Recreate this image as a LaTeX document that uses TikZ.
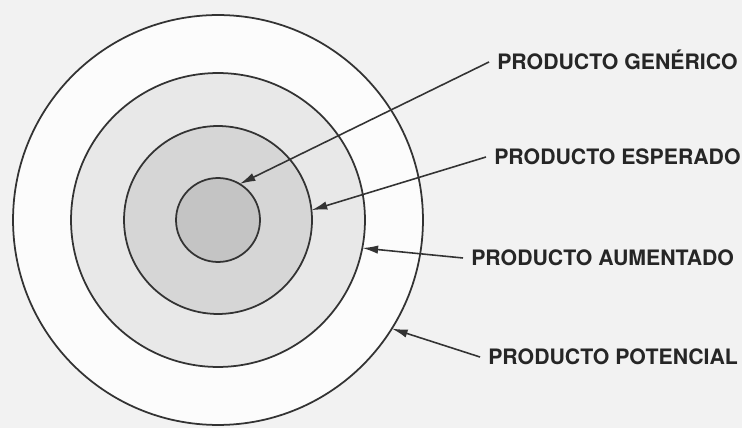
\documentclass[tikz,border=0pt]{standalone}
\usepackage{fontspec}
\setmainfont{TeX Gyre Heros}
\usetikzlibrary{arrows.meta}

\begin{document}
\begin{tikzpicture}[x=0.02cm, y=-0.02cm,
        anell/.style={circle, draw=black!80, line width=1pt, inner sep=0pt, outer sep=0pt},
        etiqueta/.style={anchor=west, inner sep=4.5pt, text height=8.7pt, text depth=0pt,
                         text=black!85, font=\fontsize{12.1}{14}\selectfont\bfseries},
        fletxa/.style={draw=black!80, line width=0.9pt, -{Latex[length=9pt, width=4.8pt]}}]
        \useasboundingbox[fill=black!5] (0,0) rectangle (742,428);
        % Cercles concentrics: del mes gran al mes petit
        \node[anell, fill=black!1,  minimum size=8.2cm]  (potencial) at (218,220) {};
        \node[anell, fill=black!9,  minimum size=5.88cm] (aumentado) at (218,220) {};
        \node[anell, fill=black!16, minimum size=3.76cm] (esperado)  at (218,220) {};
        \node[anell, fill=black!23, minimum size=1.68cm] (generico)  at (218,220) {};
        % Etiquetes a la dreta
        \node[etiqueta] (lgen) at (489,62)  {PRODUCTO GENÉRICO};
        \node[etiqueta] (lesp) at (486,157) {PRODUCTO ESPERADO};
        \node[etiqueta] (laum) at (463,258) {PRODUCTO AUMENTADO};
        \node[etiqueta] (lpot) at (480,357) {PRODUCTO POTENCIAL};
        % Fletxes cap a cada cercle
        \draw[fletxa] (lgen.west) -- (generico.59);
        \draw[fletxa] (lesp.west) -- (esperado.6);
        \draw[fletxa] (laum.west) -- (aumentado.-11);
        \draw[fletxa] (lpot.west) -- (potencial.-32);
\end{tikzpicture}
\end{document}
